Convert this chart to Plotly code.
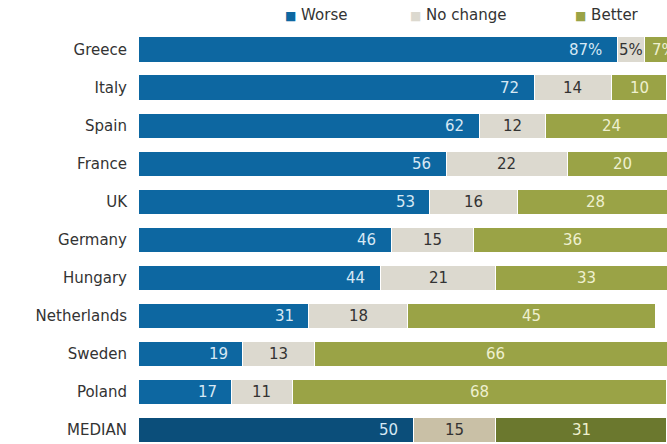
import plotly.graph_objects as go

countries = ["Greece", "Italy", "Spain", "France", "UK", "Germany", "Hungary",
             "Netherlands", "Sweden", "Poland", "MEDIAN"]
worse = [87, 72, 62, 56, 53, 46, 44, 31, 19, 17, 50]
no_change = [5, 14, 12, 22, 16, 15, 21, 18, 13, 11, 15]
better = [7, 10, 24, 20, 28, 36, 33, 45, 66, 68, 31]

C_WORSE, C_WORSE_MED = "#0d67a1", "#0b4e7a"
C_NC, C_NC_MED = "#dcd9cf", "#c9c0a6"
C_BET, C_BET_MED = "#9aa346", "#6b782e"

def colors(base, med):
    return [med if c == "MEDIAN" else base for c in countries]

FONT = "DejaVu Sans"
fig = go.Figure()
for name, vals, cols in [("Worse", worse, colors(C_WORSE, C_WORSE_MED)),
                         ("No change", no_change, colors(C_NC, C_NC_MED)),
                         ("Better", better, colors(C_BET, C_BET_MED))]:
    fig.add_trace(go.Bar(y=countries, x=vals, orientation="h", name=name,
                         marker=dict(color=cols, line=dict(color="white", width=1)),
                         width=0.66, showlegend=False, hoverinfo="skip"))

annots = []
for i, c in enumerate(countries):
    suf = "%" if i == 0 else ""
    annots.append(dict(x=worse[i], y=c, text=f"{worse[i]}{suf}", xanchor="right", xshift=-13,
                       showarrow=False, font=dict(color="#d6e8f4", size=15, family=FONT)))
    annots.append(dict(x=worse[i] + no_change[i] / 2, y=c, text=f"{no_change[i]}{suf}",
                       showarrow=False, font=dict(color="#333333", size=15, family=FONT)))
    annots.append(dict(x=worse[i] + no_change[i] + better[i] / 2, y=c,
                       text=f"{better[i]}{suf}", showarrow=False,
                       font=dict(color="#eef0cf", size=15, family=FONT)))

legend_items = [("Worse", C_WORSE, 283), ("No change", C_NC, 408), ("Better", C_BET, 573)]
for name, col, px in legend_items:
    annots.append(dict(xref="paper", yref="paper", x=(px - 138) / 529, y=1, yshift=15,
                       xanchor="left", yanchor="middle", showarrow=False,
                       text=f"<span style='color:{col};font-size:12px'>■</span> {name}",
                       font=dict(color="#333333", size=15, family=FONT)))

fig.update_layout(
    width=667, height=444,
    margin=dict(l=138, r=0, t=30, b=0),
    barmode="stack", bargap=0.34,
    plot_bgcolor="white", paper_bgcolor="white",
    xaxis=dict(range=[0, 529 / 5.506], visible=False, fixedrange=True),
    yaxis=dict(range=[10.368, -0.5125], showgrid=False, zeroline=False, showline=False,
               ticks="", ticklabelstandoff=10, automargin=False, fixedrange=True,
               tickfont=dict(size=15, family=FONT, color="#333333")),
    annotations=annots,
)
fig.write_html("out.html", config={"displayModeBar": False},
               post_script="document.body.style.margin='0';document.body.style.overflow='hidden';")
